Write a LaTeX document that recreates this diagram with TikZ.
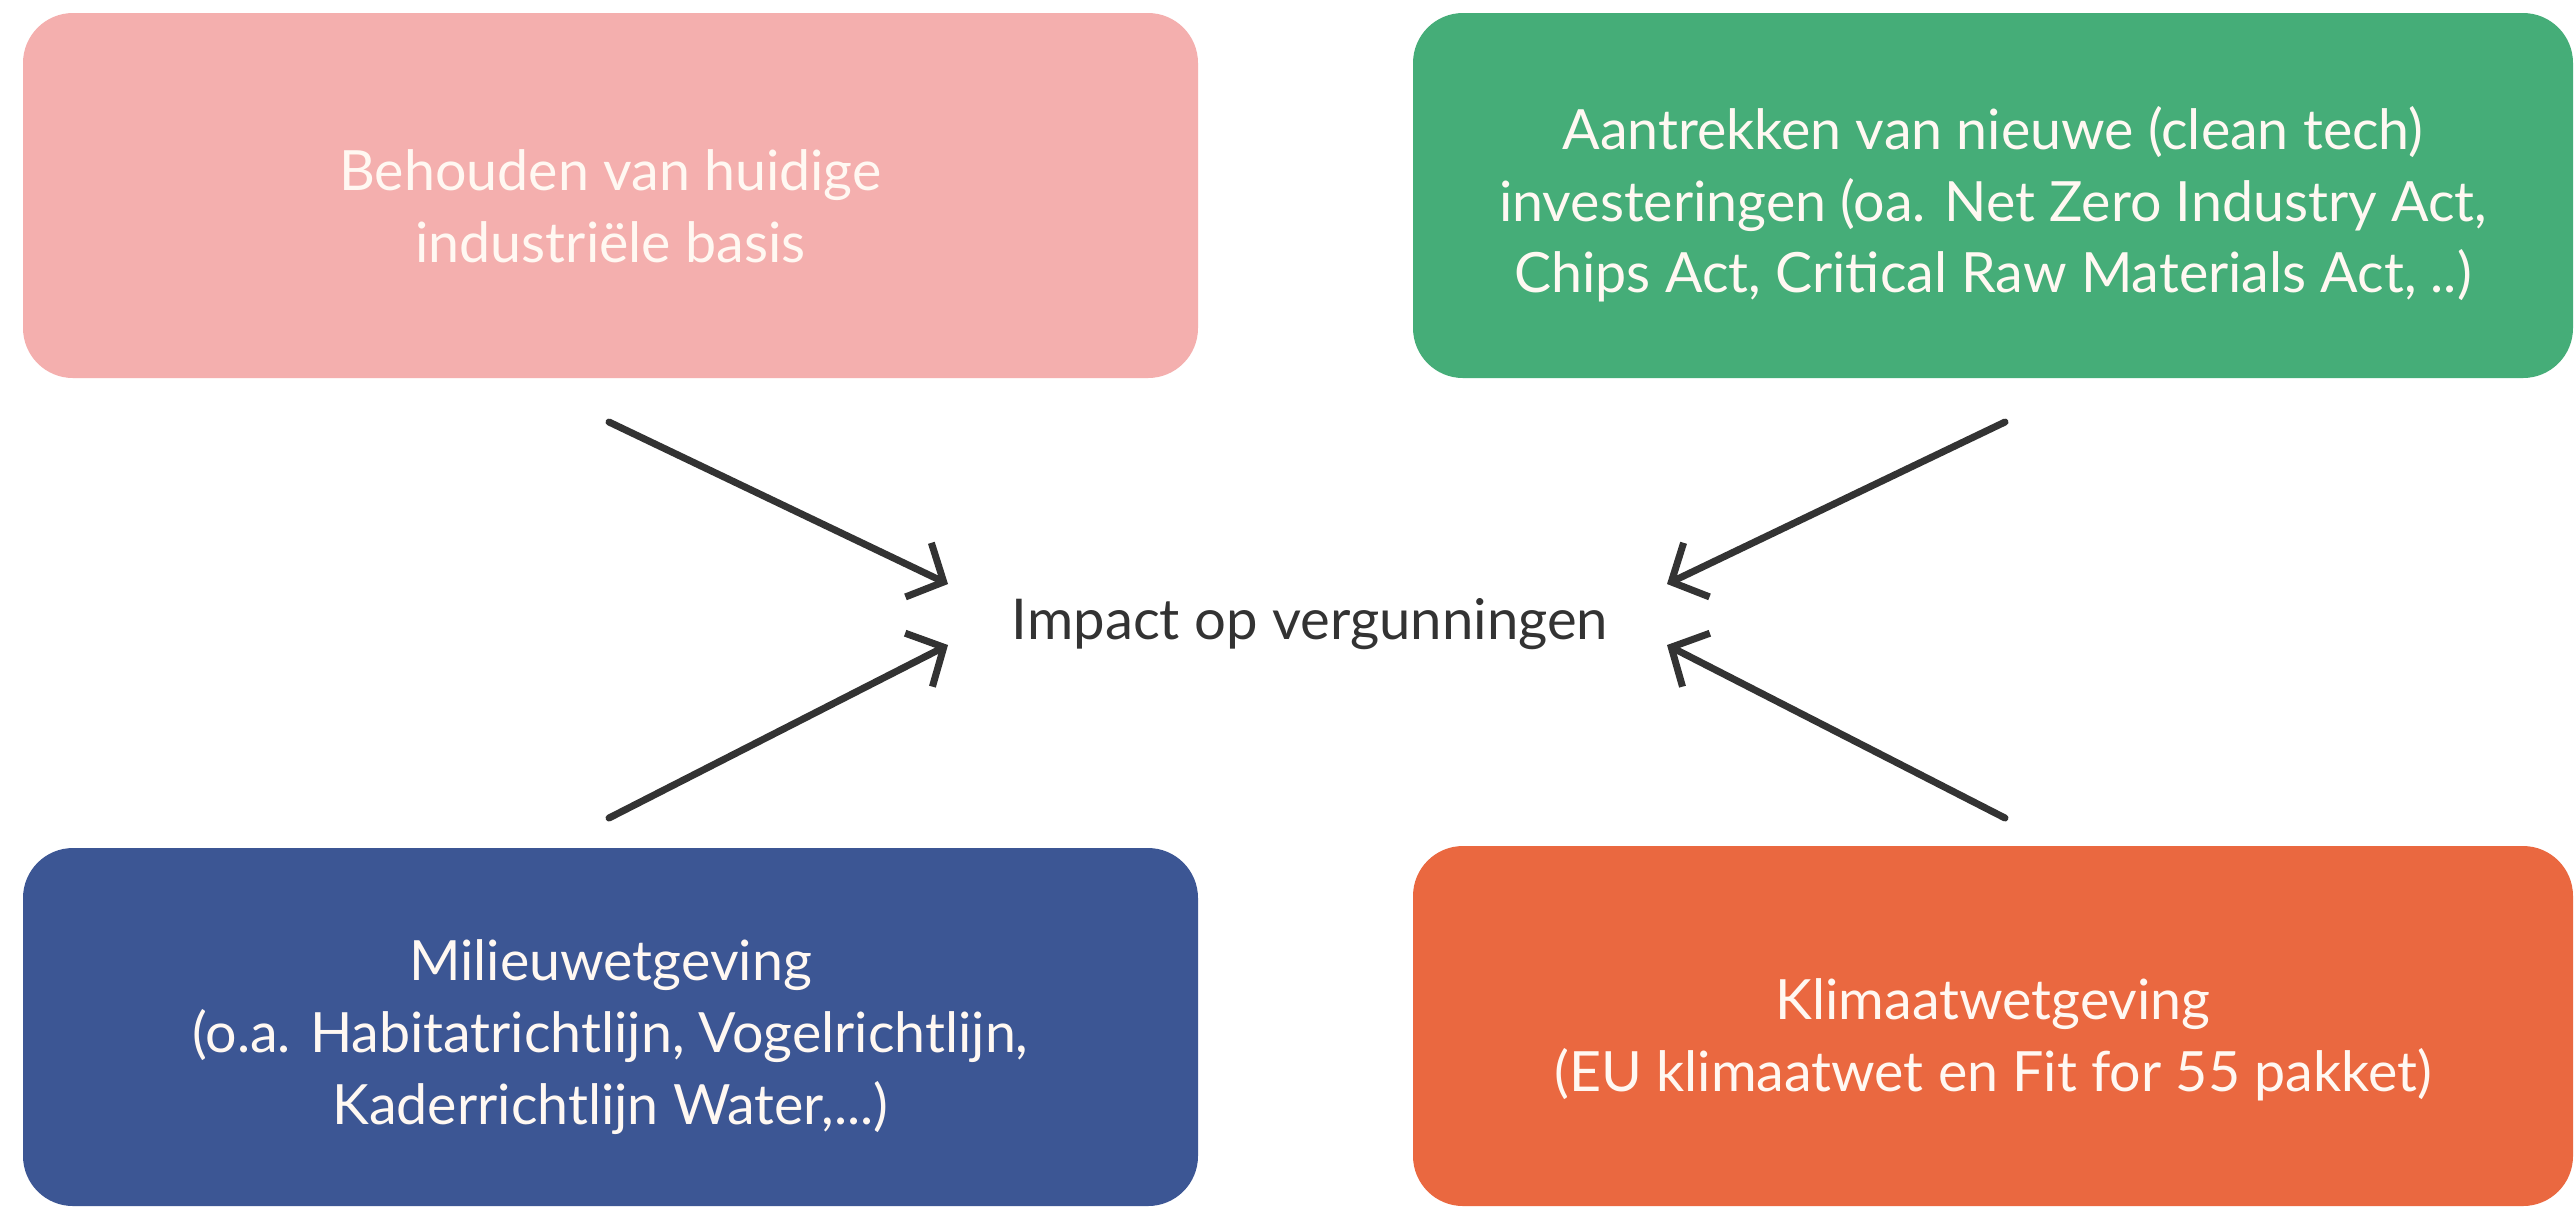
\documentclass[tikz,border=0pt]{standalone}
\usepackage{fontspec}
\setmainfont{Lato}
\usetikzlibrary{arrows.meta}
\definecolor{cpink}{HTML}{F4AFAE}
\definecolor{cgreen}{HTML}{45AD78}
\definecolor{cblue}{HTML}{3C5694}
\definecolor{corange}{HTML}{EA6840}
\definecolor{ctext}{HTML}{FFF8F2}
\definecolor{cdark}{HTML}{333333}
\begin{document}
\begin{tikzpicture}[x=0.1mm,y=-0.1mm,
  box/.style={rectangle, rounded corners=5mm, inner sep=0pt},
  boxtext/.style={inner sep=0pt, align=center, text=ctext,
    font=\fontsize{15.8}{20.4}\selectfont},
  conn/.style={draw=cdark, line width=0.7mm, line cap=round, line join=round,
    -{Straight Barb[length=2.8mm,width=6mm,line width=0.7mm]}}
]
\fill[white] (0,0) rectangle (2575,1207);
\useasboundingbox (0,0) rectangle (2575,1207);

\node[box, fill=cpink, minimum width=117.5mm, minimum height=36.5mm] (pink) at (610.5,195.5) {};
\node[boxtext] (pinkt) at ([yshift=-1.1mm]pink.center)
  {Behouden van huidige\\industriële basis};
\node[box, fill=cgreen, minimum width=116mm, minimum height=36.5mm] (green) at (1993,195.5) {};
\node[boxtext] (greent) at ([yshift=-0.9mm]green.center)
  {Aantrekken van nieuwe (clean tech)\\investeringen (oa. Net Zero Industry Act,\\Chips Act, Critical Raw Materials Act, ..)};
\node[box, fill=cblue, minimum width=117.5mm, minimum height=35.8mm] (blue) at (610.5,1027) {};
\node[boxtext] (bluet) at ([yshift=-1.0mm]blue.center)
  {Milieuwetgeving\\(o.a. Habitatrichtlijn, Vogelrichtlijn,\\Kaderrichtlijn Water,...)};
\node[box, fill=corange, minimum width=116mm, minimum height=36mm] (orange) at (1993,1026) {};
\node[boxtext] (oranget) at ([yshift=-1.4mm]orange.center)
  {Klimaatwetgeving\\(EU klimaatwet en Fit for 55 pakket)};

\node[text=cdark, font=\fontsize{16}{19.2}\selectfont, inner sep=0pt] (center) at (1310,624)
  {Impact op vergunningen};

\coordinate (s1) at (609,422);
\coordinate (e1) at (948,584);
\coordinate (s2) at (609,818);
\coordinate (e2) at (948,645);
\coordinate (s3) at (2005,422);
\coordinate (e3) at (1667,584);
\coordinate (s4) at (2005,818);
\coordinate (e4) at (1667,645);

\draw[conn] (s1) -- (e1);
\draw[conn] (s2) -- (e2);
\draw[conn] (s3) -- (e3);
\draw[conn] (s4) -- (e4);
\end{tikzpicture}
\end{document}
